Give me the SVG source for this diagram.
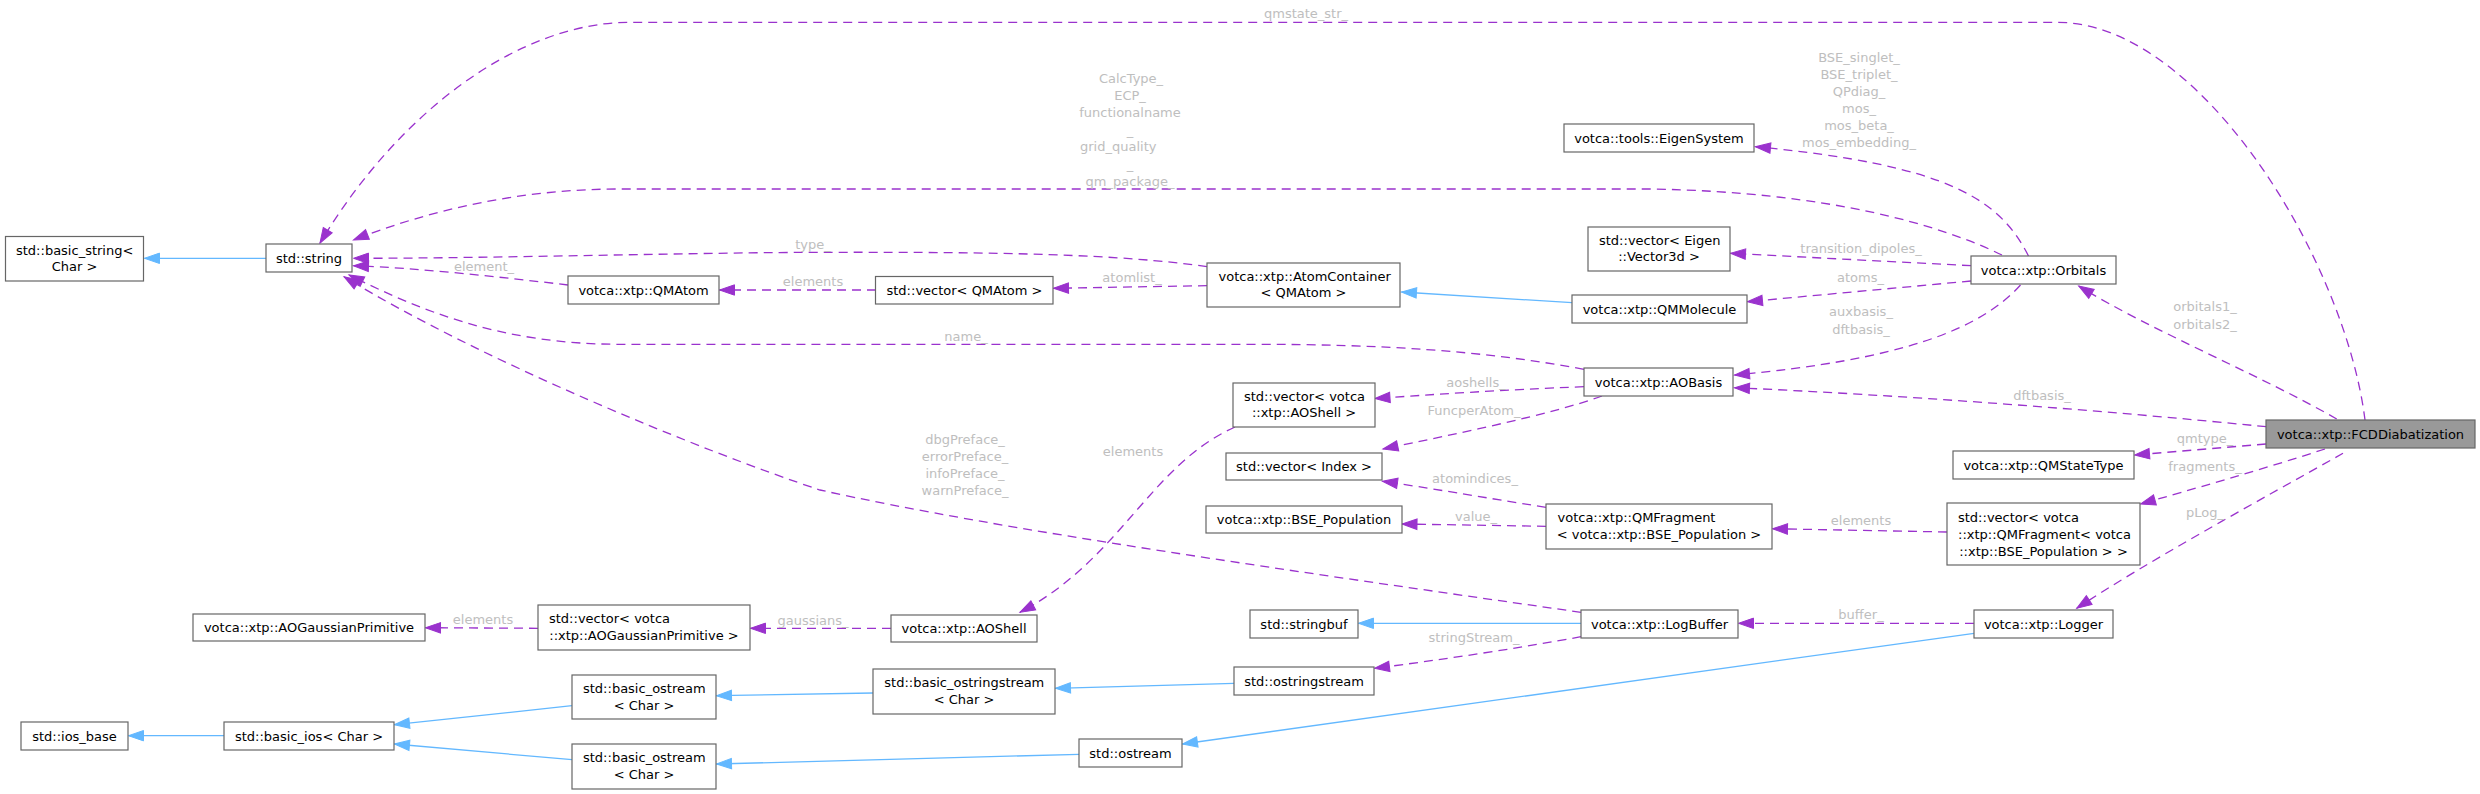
<svg xmlns="http://www.w3.org/2000/svg" width="2480" height="794" viewBox="0 0 2480 794">
<defs>
<style>
.n rect{fill:#ffffff;stroke:#666666;stroke-width:1.2}
.f rect{fill:#999999;stroke:#666666;stroke-width:1.2}
text{font-family:"DejaVu Sans","Liberation Sans",sans-serif;font-size:13px}
.t{fill:#000000}
.c{text-anchor:middle}
.l{fill:#bebebe;text-anchor:middle}
.u{fill:none;stroke:#9a32cd;stroke-width:1.3;stroke-dasharray:9,6;marker-end:url(#ap)}
.i{fill:none;stroke:#63b8ff;stroke-width:1.3;marker-end:url(#ab)}
</style>
<marker id="ap" markerUnits="userSpaceOnUse" markerWidth="20" markerHeight="14" viewBox="-16 -7 17 14" refX="0" refY="0" orient="auto">
<path d="M0,0 L-15,-5.2 L-15,5.2 Z" fill="#9a32cd" stroke="#9a32cd" stroke-width="1"/>
</marker>
<marker id="ab" markerUnits="userSpaceOnUse" markerWidth="20" markerHeight="14" viewBox="-16 -7 17 14" refX="0" refY="0" orient="auto">
<path d="M0,0 L-15,-5.2 L-15,5.2 Z" fill="#63b8ff" stroke="#63b8ff" stroke-width="1"/>
</marker>
</defs>
<rect x="0" y="0" width="2480" height="794" fill="#ffffff"/>

<g id="edges">
<!-- inheritance -->
<path class="i" d="M266,258.3 L144.5,258.3"/>
<path class="i" d="M1572,302.7 L1401.5,292"/>
<path class="i" d="M224,735.7 L128.5,735.7"/>
<path class="i" d="M572,705.7 L394.5,724.7"/>
<path class="i" d="M572,759.7 L394.5,744"/>
<path class="i" d="M873,693 L716.5,695.7"/>
<path class="i" d="M1234,683.3 L1055.5,688.3"/>
<path class="i" d="M1079,754.3 L716.5,764"/>
<path class="i" d="M1581,623.3 L1358.5,623.3"/>
<path class="i" d="M1974,633.3 L1182.5,744"/>

<!-- usage -->
<path class="u" d="M2365,420 C2345,260 2200,22.3 2057,22.3 L630,22.3 C520,22.3 400,110 320,243"/>
<text class="l" x="1306" y="18">qmstate_str_</text>

<path class="u" d="M2002,255 C1940,225 1830,192 1650,189 L620,189 C520,189 430,210 353.5,240"/>
<text class="l" x="1131" y="83">CalcType_</text>
<text class="l" x="1130" y="100.4">ECP_</text>
<text class="l" x="1130" y="117">functionalname</text>
<text class="l" x="1130" y="134.7">_</text>
<text class="t" x="1080" y="151.4" style="fill:#bebebe">grid_quality</text>
<text class="l" x="1130" y="168.7">_</text>
<text class="l" x="1130" y="185.7">qm_package_</text>

<path class="u" d="M1207,266.7 C1120,254 1000,252 830,252.3 C700,252.3 500,258.3 353.5,258.3"/>
<text class="l" x="813" y="249">type_</text>

<path class="u" d="M568,285 C500,277 420,268 353.5,265.7"/>
<text class="l" x="484" y="271.4">element_</text>

<path class="u" d="M876,290 L719.5,290"/>
<text class="l" x="813" y="286.4">elements</text>

<path class="u" d="M1207,285.7 L1053.5,288.3"/>
<text class="l" x="1132" y="282.4">atomlist_</text>

<path class="u" d="M1584,369.3 C1480,350 1380,344.3 1250,344.3 L620,344.3 C500,344.3 420,310 349,275"/>
<text class="l" x="966" y="341.4">name_</text>

<path class="u" d="M1581,612.3 C1300,572 1000,530 820,490 C700,450 480,360 344,276.7"/>
<text class="l" x="965" y="443.7">dbgPreface_</text>
<text class="l" x="965" y="460.7">errorPreface_</text>
<text class="l" x="965" y="477.7">infoPreface_</text>
<text class="l" x="965" y="494.7">warnPreface_</text>

<path class="u" d="M2028.5,256 C2000,200 1950,165 1755.5,146.7"/>
<text class="l" x="1859" y="61.7">BSE_singlet_</text>
<text class="l" x="1859" y="78.7">BSE_triplet_</text>
<text class="l" x="1859" y="95.7">QPdiag_</text>
<text class="l" x="1859" y="112.7">mos_</text>
<text class="l" x="1859" y="129.7">mos_beta_</text>
<text class="l" x="1859" y="146.7">mos_embedding_</text>

<path class="u" d="M1971,265.7 L1730.5,253.3"/>
<text class="l" x="1861" y="253">transition_dipoles_</text>

<path class="u" d="M1971,281 L1747.5,301.7"/>
<text class="l" x="1860.5" y="282.4">atoms_</text>

<path class="u" d="M2020.5,285 C1980,330 1900,360 1734.5,375"/>
<text class="l" x="1861" y="316.4">auxbasis_</text>
<text class="l" x="1861" y="333.7">dftbasis_</text>

<path class="u" d="M2266,426.7 C2100,410 1900,395 1734.5,387.7"/>
<text class="l" x="2042" y="399.7">dftbasis_</text>

<path class="u" d="M2336.7,419 C2260,375 2150,330 2078.7,286"/>
<text class="l" x="2205" y="311.4">orbitals1_</text>
<text class="l" x="2205" y="328.7">orbitals2_</text>

<path class="u" d="M2266,444 L2134.5,455"/>
<text class="l" x="2205" y="442.7">qmtype_</text>

<path class="u" d="M2325,449 C2260,470 2190,490 2140.5,504"/>
<text class="l" x="2205" y="471.4">fragments_</text>

<path class="u" d="M2343,453.3 C2260,500 2150,560 2076.7,608.3"/>
<text class="l" x="2205" y="516.7">pLog_</text>

<path class="u" d="M1974,623.3 L1738.5,623.3"/>
<text class="l" x="1861" y="619.4">buffer_</text>

<path class="u" d="M1947,532 L1772.5,528.7"/>
<text class="l" x="1861" y="525.4">elements</text>

<path class="u" d="M1546,507.3 C1480,497 1430,488 1382.5,481.3"/>
<text class="l" x="1475" y="483.4">atomindices_</text>

<path class="u" d="M1546,526.3 L1402,524"/>
<text class="l" x="1476" y="520.7">value_</text>

<path class="u" d="M1584,386.7 C1500,390 1440,394 1375,398.5"/>
<text class="l" x="1476" y="387.4">aoshells_</text>

<path class="u" d="M1602,396 C1550,415 1450,435 1383,449"/>
<text class="l" x="1474" y="415.4">FuncperAtom_</text>

<path class="u" d="M1235,427 C1150,465 1120,560 1020,612.3"/>
<text class="l" x="1133" y="455.7">elements</text>

<path class="u" d="M891,628.3 L750.5,628.3"/>
<text class="l" x="813" y="624.7">gaussians_</text>

<path class="u" d="M538,628.3 L425.5,627.7"/>
<text class="l" x="483" y="623.7">elements</text>

<path class="u" d="M1581,636.7 C1520,648 1440,660 1374.5,668.3"/>
<text class="l" x="1474" y="642.4">stringStream_</text>
</g>

<g id="basic_string" class="n"><rect x="5.5" y="236.5" width="138" height="44.5"/><text class="t" x="16" y="254.6">std::basic_string&lt;</text><text class="t c" x="74.5" y="271.3">Char &gt;</text></g>
<g id="std_string" class="n"><rect x="266" y="244" width="86" height="28"/><text class="t c" x="309" y="262.7">std::string</text></g>
<g id="QMAtom" class="n"><rect x="568" y="276" width="151" height="28"/><text class="t c" x="643.5" y="294.7">votca::xtp::QMAtom</text></g>
<g id="vec_QMAtom" class="n"><rect x="875.5" y="276.5" width="177.5" height="27.5"/><text class="t c" x="964.5" y="294.7">std::vector&lt; QMAtom &gt;</text></g>
<g id="AtomContainer" class="n"><rect x="1207" y="263" width="193" height="44"/><text class="t" x="1218.5" y="280.7">votca::xtp::AtomContainer</text><text class="t c" x="1303.5" y="297.4">&lt; QMAtom &gt;</text></g>
<g id="QMMolecule" class="n"><rect x="1572" y="295" width="175" height="28"/><text class="t c" x="1659.5" y="313.7">votca::xtp::QMMolecule</text></g>
<g id="EigenSystem" class="n"><rect x="1564" y="124" width="190" height="28"/><text class="t c" x="1659" y="142.7">votca::tools::EigenSystem</text></g>
<g id="vec_Vector3d" class="n"><rect x="1588" y="227" width="142" height="44"/><text class="t" x="1599" y="244.7">std::vector&lt; Eigen</text><text class="t c" x="1659" y="261.4">::Vector3d &gt;</text></g>
<g id="Orbitals" class="n"><rect x="1971" y="256" width="145" height="28"/><text class="t c" x="2043.5" y="274.7">votca::xtp::Orbitals</text></g>
<g id="AOBasis" class="n"><rect x="1584" y="368" width="149" height="28"/><text class="t c" x="1658.5" y="386.7">votca::xtp::AOBasis</text></g>
<g id="vec_AOShell" class="n"><rect x="1233" y="383" width="142" height="44"/><text class="t" x="1244" y="400.7">std::vector&lt; votca</text><text class="t c" x="1304" y="417.4">::xtp::AOShell &gt;</text></g>
<g id="vec_Index" class="n"><rect x="1226" y="453" width="156" height="27"/><text class="t c" x="1304" y="471.2">std::vector&lt; Index &gt;</text></g>
<g id="BSE_Population" class="n"><rect x="1206" y="506" width="196" height="27"/><text class="t c" x="1304" y="524.2">votca::xtp::BSE_Population</text></g>
<g id="QMFragment" class="n"><rect x="1546" y="504" width="226" height="45"/><text class="t" x="1557.5" y="521.9">votca::xtp::QMFragment</text><text class="t c" x="1659" y="538.6">&lt; votca::xtp::BSE_Population &gt;</text></g>
<g id="QMStateType" class="n"><rect x="1953" y="451" width="181" height="28"/><text class="t c" x="2043.5" y="469.7">votca::xtp::QMStateType</text></g>
<g id="vec_QMFragment" class="n"><rect x="1947" y="503" width="193" height="62"/><text class="t" x="1958" y="521.7">std::vector&lt; votca</text><text class="t" x="1958" y="538.7">::xtp::QMFragment&lt; votca</text><text class="t c" x="2043.5" y="555.7">::xtp::BSE_Population &gt; &gt;</text></g>
<g id="FCDDiabatization" class="f"><rect x="2266" y="420" width="209" height="28"/><text class="t c" x="2370.5" y="438.7">votca::xtp::FCDDiabatization</text></g>
<g id="AOGaussianPrimitive" class="n"><rect x="193" y="614" width="232" height="27"/><text class="t c" x="309" y="632.2">votca::xtp::AOGaussianPrimitive</text></g>
<g id="vec_AOGaussianPrimitive" class="n"><rect x="538" y="605" width="212" height="45"/><text class="t" x="549" y="622.9">std::vector&lt; votca</text><text class="t c" x="644" y="639.6">::xtp::AOGaussianPrimitive &gt;</text></g>
<g id="AOShell" class="n"><rect x="891" y="615" width="146" height="27"/><text class="t c" x="964" y="633.2">votca::xtp::AOShell</text></g>
<g id="stringbuf" class="n"><rect x="1250" y="610" width="108" height="28"/><text class="t c" x="1304" y="628.7">std::stringbuf</text></g>
<g id="LogBuffer" class="n"><rect x="1581" y="610" width="157" height="28"/><text class="t c" x="1659.5" y="628.7">votca::xtp::LogBuffer</text></g>
<g id="Logger" class="n"><rect x="1974" y="610" width="139" height="28"/><text class="t c" x="2043.5" y="628.7">votca::xtp::Logger</text></g>
<g id="ostringstream" class="n"><rect x="1234" y="667" width="140" height="28"/><text class="t c" x="1304" y="685.7">std::ostringstream</text></g>
<g id="basic_ostringstream" class="n"><rect x="873" y="669" width="182" height="45"/><text class="t" x="884.3" y="686.9">std::basic_ostringstream</text><text class="t c" x="964" y="703.6">&lt; Char &gt;</text></g>
<g id="basic_ostream_1" class="n"><rect x="572" y="675" width="144" height="44"/><text class="t" x="583" y="693">std::basic_ostream</text><text class="t c" x="644" y="709.7">&lt; Char &gt;</text></g>
<g id="basic_ostream_2" class="n"><rect x="572" y="744" width="144" height="45"/><text class="t" x="583" y="762.2">std::basic_ostream</text><text class="t c" x="644" y="778.9">&lt; Char &gt;</text></g>
<g id="ostream" class="n"><rect x="1079" y="739" width="103" height="28"/><text class="t c" x="1130.5" y="757.7">std::ostream</text></g>
<g id="basic_ios" class="n"><rect x="224" y="722" width="170" height="28"/><text class="t c" x="309" y="740.7">std::basic_ios&lt; Char &gt;</text></g>
<g id="ios_base" class="n"><rect x="21" y="722" width="107" height="28"/><text class="t c" x="74.5" y="740.7">std::ios_base</text></g>
</svg>
